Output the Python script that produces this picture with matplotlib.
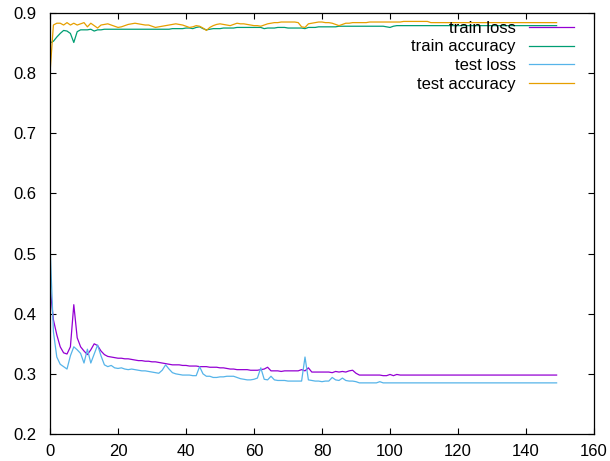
import matplotlib
matplotlib.use("Agg")
import matplotlib.pyplot as plt

plt.rcParams["font.family"] = ["Liberation Sans", "DejaVu Sans"]

epochs = list(range(150))

train_loss = [
    0.445, 0.390, 0.365, 0.345, 0.335, 0.333, 0.345, 0.415, 0.360, 0.345,
    0.338, 0.332, 0.340, 0.350, 0.347, 0.338, 0.332, 0.329, 0.328, 0.327,
    0.326, 0.326, 0.325, 0.325, 0.324, 0.323, 0.322, 0.322, 0.321, 0.321,
    0.320, 0.320, 0.319, 0.318, 0.317, 0.316, 0.315, 0.315, 0.315, 0.314,
    0.314, 0.313, 0.313, 0.313, 0.312, 0.312, 0.312, 0.311, 0.311, 0.311,
    0.310, 0.310, 0.309, 0.308, 0.308, 0.307, 0.307, 0.307, 0.307, 0.306,
    0.306, 0.306, 0.307, 0.308, 0.311, 0.305, 0.305, 0.305, 0.304, 0.305,
    0.305, 0.305, 0.305, 0.305, 0.307, 0.305, 0.310, 0.303, 0.303, 0.303,
    0.303, 0.303, 0.303, 0.302, 0.304, 0.303, 0.304, 0.303, 0.305, 0.306,
    0.301, 0.298, 0.298, 0.298, 0.298, 0.298, 0.298, 0.298, 0.297, 0.297,
    0.299, 0.297, 0.299, 0.298, 0.298, 0.298, 0.298, 0.298, 0.298, 0.298,
    0.298, 0.298, 0.298, 0.298, 0.298, 0.298, 0.298, 0.298, 0.298, 0.298,
    0.298, 0.298, 0.298, 0.298, 0.298, 0.298, 0.298, 0.298, 0.298, 0.298,
    0.298, 0.298, 0.298, 0.298, 0.298, 0.298, 0.298, 0.298, 0.298, 0.298,
    0.298, 0.298, 0.298, 0.298, 0.298, 0.298, 0.298, 0.298, 0.298, 0.298,
]

train_acc = [
    0.850, 0.853, 0.860, 0.866, 0.871, 0.870, 0.866, 0.851, 0.869, 0.872,
    0.872, 0.872, 0.873, 0.870, 0.872, 0.872, 0.873, 0.873, 0.873, 0.873,
    0.873, 0.873, 0.873, 0.873, 0.873, 0.873, 0.873, 0.873, 0.873, 0.873,
    0.873, 0.873, 0.873, 0.873, 0.873, 0.873, 0.874, 0.874, 0.874, 0.874,
    0.875, 0.875, 0.874, 0.876, 0.877, 0.874, 0.872, 0.873, 0.874, 0.874,
    0.874, 0.875, 0.875, 0.875, 0.875, 0.876, 0.876, 0.876, 0.876, 0.876,
    0.876, 0.876, 0.876, 0.874, 0.875, 0.875, 0.875, 0.876, 0.876, 0.876,
    0.875, 0.875, 0.875, 0.875, 0.875, 0.874, 0.876, 0.876, 0.876, 0.877,
    0.877, 0.877, 0.877, 0.877, 0.877, 0.878, 0.878, 0.878, 0.878, 0.878,
    0.878, 0.878, 0.878, 0.878, 0.878, 0.878, 0.878, 0.878, 0.878, 0.877,
    0.876, 0.878, 0.879, 0.879, 0.879, 0.879, 0.879, 0.879, 0.879, 0.879,
    0.879, 0.879, 0.879, 0.879, 0.879, 0.879, 0.879, 0.879, 0.879, 0.879,
    0.879, 0.879, 0.879, 0.879, 0.879, 0.879, 0.879, 0.879, 0.879, 0.879,
    0.879, 0.879, 0.879, 0.879, 0.879, 0.879, 0.879, 0.879, 0.879, 0.879,
    0.879, 0.879, 0.879, 0.879, 0.879, 0.879, 0.879, 0.879, 0.879, 0.879,
]

test_loss = [
    0.515, 0.370, 0.328, 0.316, 0.312, 0.308, 0.330, 0.345, 0.340, 0.334,
    0.318, 0.341, 0.318, 0.333, 0.348, 0.330, 0.315, 0.312, 0.314, 0.310,
    0.309, 0.310, 0.308, 0.307, 0.308, 0.307, 0.306, 0.305, 0.305, 0.304,
    0.303, 0.302, 0.301, 0.306, 0.315, 0.308, 0.302, 0.300, 0.299, 0.298,
    0.298, 0.298, 0.297, 0.297, 0.312, 0.300, 0.296, 0.296, 0.294, 0.294,
    0.295, 0.295, 0.296, 0.296, 0.296, 0.294, 0.292, 0.291, 0.290, 0.290,
    0.291, 0.293, 0.310, 0.291, 0.290, 0.296, 0.290, 0.289, 0.289, 0.289,
    0.288, 0.288, 0.288, 0.288, 0.288, 0.328, 0.290, 0.289, 0.288, 0.288,
    0.287, 0.288, 0.288, 0.294, 0.290, 0.289, 0.293, 0.289, 0.288, 0.288,
    0.287, 0.285, 0.285, 0.285, 0.285, 0.285, 0.285, 0.287, 0.285, 0.285,
    0.285, 0.285, 0.285, 0.285, 0.285, 0.285, 0.285, 0.285, 0.285, 0.285,
    0.285, 0.285, 0.285, 0.285, 0.285, 0.285, 0.285, 0.285, 0.285, 0.285,
    0.285, 0.285, 0.285, 0.285, 0.285, 0.285, 0.285, 0.285, 0.285, 0.285,
    0.285, 0.285, 0.285, 0.285, 0.285, 0.285, 0.285, 0.285, 0.285, 0.285,
    0.285, 0.285, 0.285, 0.285, 0.285, 0.285, 0.285, 0.285, 0.285, 0.285,
]

test_acc = [
    0.800, 0.880, 0.883, 0.883, 0.880, 0.884, 0.880, 0.883, 0.880, 0.882,
    0.884, 0.877, 0.883, 0.879, 0.875, 0.880, 0.881, 0.882, 0.880, 0.878,
    0.876, 0.877, 0.879, 0.881, 0.882, 0.883, 0.882, 0.881, 0.880, 0.880,
    0.878, 0.876, 0.877, 0.878, 0.879, 0.880, 0.881, 0.882, 0.881, 0.880,
    0.878, 0.876, 0.877, 0.879, 0.878, 0.875, 0.871, 0.876, 0.879, 0.881,
    0.882, 0.881, 0.880, 0.879, 0.881, 0.883, 0.882, 0.882, 0.881, 0.880,
    0.879, 0.879, 0.878, 0.880, 0.882, 0.883, 0.884, 0.884, 0.885, 0.885,
    0.885, 0.885, 0.885, 0.884, 0.877, 0.876, 0.882, 0.883, 0.884, 0.885,
    0.885, 0.884, 0.884, 0.883, 0.881, 0.879, 0.881, 0.883, 0.883, 0.884,
    0.884, 0.884, 0.884, 0.884, 0.885, 0.885, 0.885, 0.885, 0.885, 0.885,
    0.885, 0.885, 0.885, 0.885, 0.886, 0.886, 0.886, 0.886, 0.886, 0.886,
    0.886, 0.886, 0.884, 0.884, 0.884, 0.884, 0.884, 0.884, 0.884, 0.884,
    0.884, 0.884, 0.884, 0.884, 0.884, 0.884, 0.884, 0.884, 0.884, 0.884,
    0.884, 0.884, 0.884, 0.884, 0.884, 0.884, 0.884, 0.884, 0.884, 0.884,
    0.884, 0.884, 0.884, 0.884, 0.884, 0.884, 0.884, 0.884, 0.884, 0.884,
]

x_ticks = [0, 20, 40, 60, 80, 100, 120, 140, 160]
y_ticks = [0.2, 0.3, 0.4, 0.5, 0.6, 0.7, 0.8, 0.9]

fig = plt.figure(figsize=(6.1, 4.61), dpi=100)
ax = fig.add_axes([50 / 610, 1 - 434 / 461, 544 / 610, 421 / 461])

ax.plot(epochs, train_loss, color="#9400D3", lw=0.9, label="train loss")
ax.plot(epochs, train_acc, color="#009E73", lw=0.9, label="train accuracy")
ax.plot(epochs, test_loss, color="#56B4E9", lw=0.9, label="test loss")
ax.plot(epochs, test_acc, color="#E69F00", lw=0.9, label="test accuracy")

ax.set_xlim(0, 160)
ax.set_ylim(0.2, 0.9)
ax.set_xticks(x_ticks)
ax.set_yticks(y_ticks)
ax.set_yticklabels([f"{v:.1f}" for v in y_ticks])
ax.tick_params(direction="in", top=True, right=True, length=4, width=0.8,
               labelsize=12, pad=10, colors="black")
ax.tick_params(axis="x", pad=7.5)
for sp in ax.spines.values():
    sp.set_linewidth(0.9)

ax.legend(loc="upper right", bbox_to_anchor=(0.963, 0.982), frameon=False,
          markerfirst=False, fontsize=12, handlelength=2.7, handletextpad=0.8,
          labelspacing=0.23, borderpad=0, borderaxespad=0)

fig.savefig("out.png", dpi=100)
